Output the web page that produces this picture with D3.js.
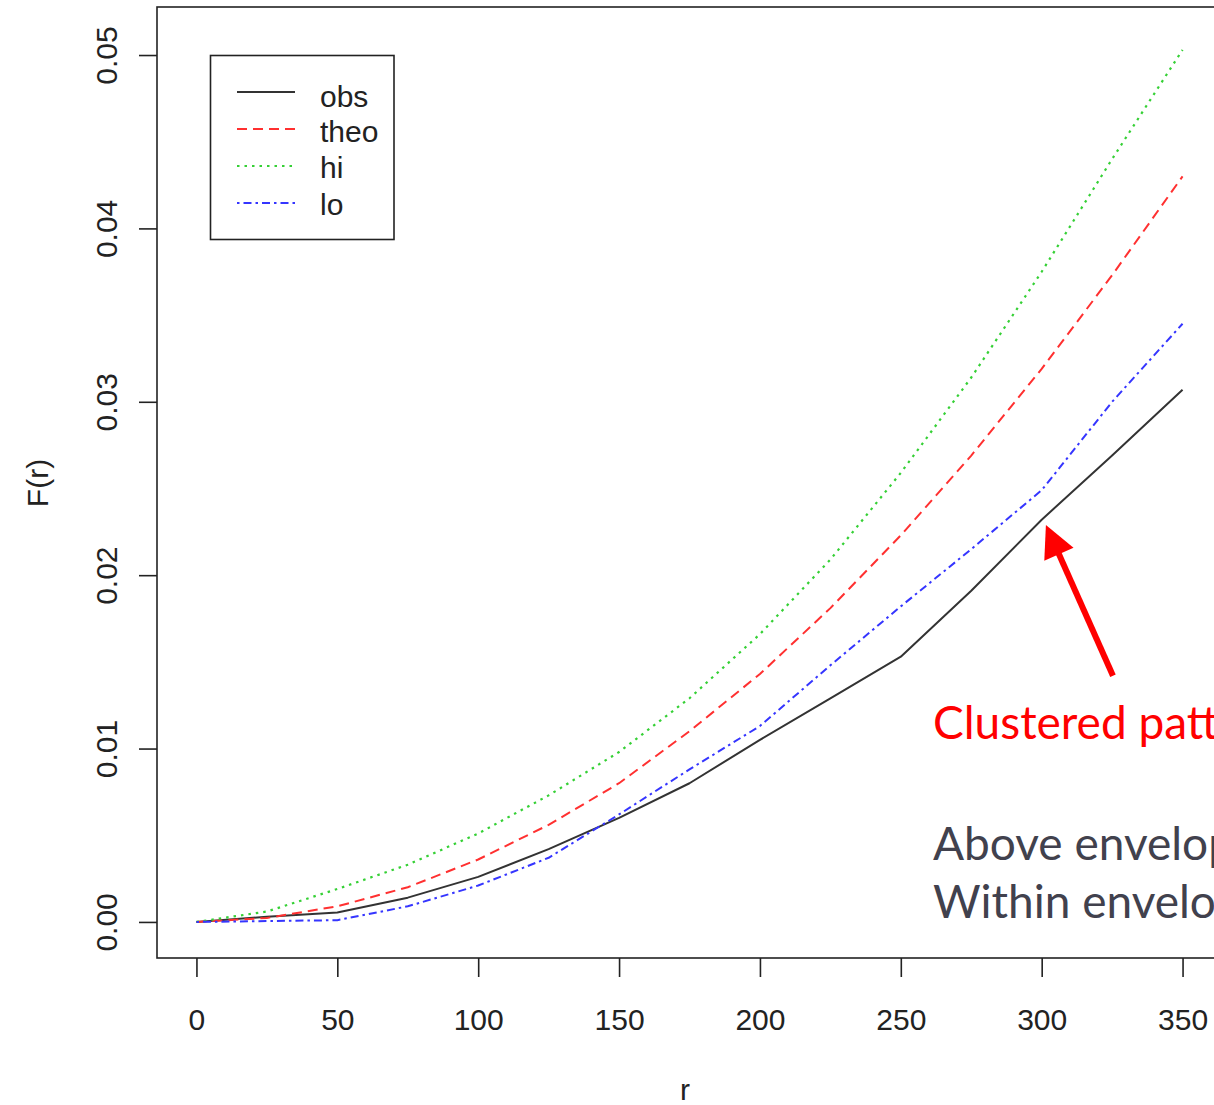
<!DOCTYPE html>
<html>
<head>
<meta charset="utf-8">
<script src="https://cdn.jsdelivr.net/npm/d3@7"></script>
<style>
  html, body { margin: 0; padding: 0; background: #fff; overflow: hidden; }
  svg { display: block; }
</style>
</head>
<body>
<script>
// Distance values r at which the empty-space function F(r) was evaluated
const rValues = [0, 25, 50, 75, 100, 125, 150, 175, 200, 225, 250, 275, 300, 325, 350];
// Observed F(r)
const obs  = [0, 0.0003, 0.00055, 0.0014, 0.0026, 0.0042, 0.0060, 0.0080, 0.0105, 0.0129, 0.0153, 0.0191, 0.0232, 0.0269, 0.0307];
// Theoretical F(r) under complete spatial randomness
const theo = [0, 0.00023, 0.0009, 0.0020, 0.0036, 0.0056, 0.0080, 0.0110, 0.0143, 0.0181, 0.0223, 0.0269, 0.0319, 0.0373, 0.0430];
// Upper and lower simulation envelopes
const hi   = [0, 0.0006, 0.0019, 0.0033, 0.0051, 0.0073, 0.0098, 0.0129, 0.0166, 0.0209, 0.0259, 0.0314, 0.0375, 0.0440, 0.0503];
const lo   = [0, 0.00005, 0.0001, 0.0009, 0.0021, 0.0037, 0.0062, 0.0088, 0.0113, 0.0148, 0.0182, 0.0215, 0.0249, 0.0300, 0.0345];

const xTicks = [0, 50, 100, 150, 200, 250, 300, 350];
const yTicks = [0.00, 0.01, 0.02, 0.03, 0.04, 0.05];
const seriesNames = ["obs", "theo", "hi", "lo"];

const W = 1214, H = 1105;
const frame = { left: 157, top: 7, right: 1222, bottom: 958 };

const svg = d3.select("body").append("svg")
  .attr("width", W).attr("height", H)
  .style("font-family", "'Liberation Sans', Arial, sans-serif");

const x = d3.scaleLinear().domain([-14, 364]).range([frame.left, frame.right]);
const y = d3.scaleLinear().domain([-0.00208, 0.05277]).range([frame.bottom, frame.top]);

// line styles for each series
const style = {
  obs:  { data: obs,  color: "#333333", dash: null,            width: 2 },
  theo: { data: theo, color: "#ff3030", dash: "10,6",          width: 2 },
  hi:   { data: hi,   color: "#35d035", dash: "2.5,5",         width: 2.2 },
  lo:   { data: lo,   color: "#3535ff", dash: "2.5,4,8,4",     width: 2 }
};

const line = d3.line()
  .x(d => x(d[0]))
  .y(d => y(d[1]));

// draw order: obs, theo, hi, lo
seriesNames.forEach(name => {
  const s = style[name];
  svg.append("path")
    .datum(rValues.map((r, i) => [r, s.data[i]]))
    .attr("d", line)
    .attr("fill", "none")
    .attr("stroke", s.color)
    .attr("stroke-width", s.width)
    .attr("stroke-dasharray", s.dash)
    .attr("stroke-linejoin", "round");
});

// plot frame
svg.append("rect")
  .attr("x", frame.left).attr("y", frame.top)
  .attr("width", frame.right - frame.left)
  .attr("height", frame.bottom - frame.top)
  .attr("fill", "none")
  .attr("stroke", "#222")
  .attr("stroke-width", 1.6);

// x axis
const gx = svg.append("g")
  .attr("transform", `translate(0,${frame.bottom})`)
  .call(d3.axisBottom(x).tickValues(xTicks).tickSize(19).tickFormat(d3.format("d")));
gx.select(".domain").remove();
gx.selectAll(".tick line").attr("stroke", "#222").attr("stroke-width", 1.6);
gx.selectAll(".tick text")
  .attr("y", 72).attr("dy", null)
  .attr("fill", "#222")
  .style("font-size", "30px")
  .style("font-family", "'Liberation Sans', Arial, sans-serif");

// y axis with labels rotated parallel to the axis
const gy = svg.append("g")
  .attr("transform", `translate(${frame.left},0)`)
  .call(d3.axisLeft(y).tickValues(yTicks).tickSize(18).tickFormat(d3.format(".2f")));
gy.select(".domain").remove();
gy.selectAll(".tick line").attr("stroke", "#222").attr("stroke-width", 1.6);
gy.selectAll(".tick text")
  .attr("x", 0).attr("y", 0).attr("dy", null).attr("dx", null)
  .attr("text-anchor", "middle")
  .attr("transform", "translate(-40,0) rotate(-90)")
  .attr("fill", "#222")
  .style("font-size", "30px")
  .style("font-family", "'Liberation Sans', Arial, sans-serif");

// axis titles
svg.append("text")
  .attr("x", 685).attr("y", 1100)
  .attr("text-anchor", "middle")
  .attr("fill", "#222")
  .style("font-size", "30px")
  .text("r");

svg.append("text")
  .attr("transform", "translate(48,483) rotate(-90)")
  .attr("text-anchor", "middle")
  .attr("fill", "#222")
  .style("font-size", "30px")
  .text("F(r)");

// legend
const legend = svg.append("g");
legend.append("rect")
  .attr("x", 210.5).attr("y", 55.5)
  .attr("width", 183.5).attr("height", 184)
  .attr("fill", "#fff")
  .attr("stroke", "#222")
  .attr("stroke-width", 1.6);

const legendLineY = [92, 129, 166, 203];
const legendTextY = [107, 142, 178, 215];
seriesNames.forEach((name, i) => {
  const s = style[name];
  legend.append("line")
    .attr("x1", 237).attr("x2", 295)
    .attr("y1", legendLineY[i]).attr("y2", legendLineY[i])
    .attr("stroke", s.color)
    .attr("stroke-width", s.width)
    .attr("stroke-dasharray", s.dash);
  legend.append("text")
    .attr("x", 320).attr("y", legendTextY[i])
    .attr("fill", "#222")
    .style("font-size", "30px")
    .text(name);
});

// annotation arrow pointing at the observed curve
const tail = [x(325.3), y(0.0142)];
const tip  = [x(301.5), y(0.0229)];
const dx = tip[0] - tail[0], dy = tip[1] - tail[1];
const len = Math.hypot(dx, dy);
const ux = dx / len, uy = dy / len;
const headLen = 32, headHalf = 16;
const base = [tip[0] - ux * headLen, tip[1] - uy * headLen];
svg.append("line")
  .attr("x1", tail[0]).attr("y1", tail[1])
  .attr("x2", base[0] + ux * 2).attr("y2", base[1] + uy * 2)
  .attr("stroke", "#ff0000")
  .attr("stroke-width", 6);
svg.append("polygon")
  .attr("points", [
    tip,
    [base[0] - uy * headHalf, base[1] + ux * headHalf],
    [base[0] + uy * headHalf, base[1] - ux * headHalf]
  ].map(p => p.join(",")).join(" "))
  .attr("fill", "#ff0000");

// annotation text (runs past the right edge of the page)
const noteFont = "'Lato', 'Open Sans', sans-serif";
svg.append("text")
  .attr("x", 933).attr("y", 739)
  .attr("fill", "#ff0000")
  .style("font-family", noteFont)
  .style("font-size", "46px")
  .text("Clustered pattern");
svg.append("text")
  .attr("x", 933).attr("y", 860)
  .attr("fill", "#41414d")
  .style("font-family", noteFont)
  .style("font-size", "46px")
  .text("Above envelope");
svg.append("text")
  .attr("x", 933).attr("y", 918)
  .attr("fill", "#41414d")
  .style("font-family", noteFont)
  .style("font-size", "46px")
  .text("Within envelope");
</script>
</body>
</html>
